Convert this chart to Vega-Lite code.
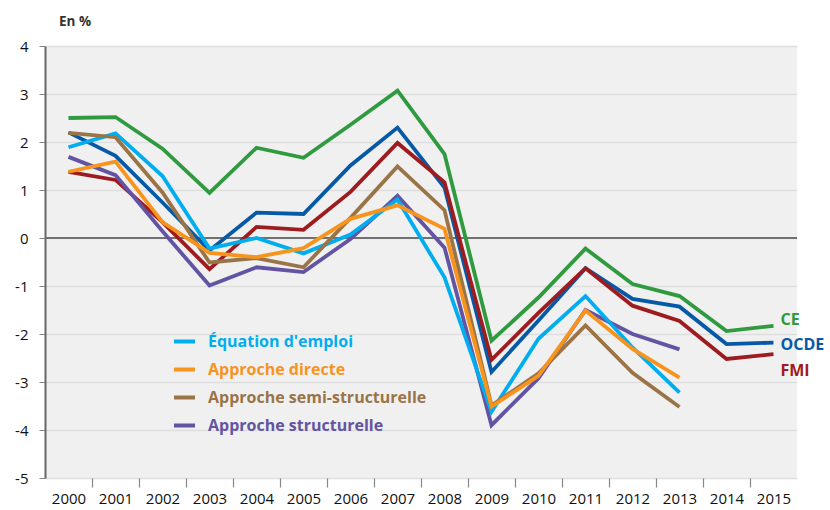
{
  "$schema": "https://vega.github.io/schema/vega-lite/v6.json",
  "width": 752,
  "height": 432,
  "autosize": {"type": "none"},
  "padding": {"left": 45, "top": 46, "right": 33, "bottom": 32},
  "background": "white",
  "title": {"text": "En %", "anchor": "start", "frame": "group", "dx": 14, "dy": 8, "offset": 5, "fontSize": 13.5, "fontWeight": "bold", "color": "#333333", "font": "Open Sans", "baseline": "bottom"},
  "config": {
    "view": {"fill": "#f0f0f0", "stroke": null},
    "font": "Open Sans"
  },
  "datasets": {
    "series": [
      {"serie": "CE", "annee": 2000, "valeur": 2.50},
      {"serie": "CE", "annee": 2001, "valeur": 2.52},
      {"serie": "CE", "annee": 2002, "valeur": 1.86},
      {"serie": "CE", "annee": 2003, "valeur": 0.94},
      {"serie": "CE", "annee": 2004, "valeur": 1.88},
      {"serie": "CE", "annee": 2005, "valeur": 1.67},
      {"serie": "CE", "annee": 2006, "valeur": 2.36},
      {"serie": "CE", "annee": 2007, "valeur": 3.07},
      {"serie": "CE", "annee": 2008, "valeur": 1.75},
      {"serie": "CE", "annee": 2009, "valeur": -2.14},
      {"serie": "CE", "annee": 2010, "valeur": -1.24},
      {"serie": "CE", "annee": 2011, "valeur": -0.22},
      {"serie": "CE", "annee": 2012, "valeur": -0.96},
      {"serie": "CE", "annee": 2013, "valeur": -1.21},
      {"serie": "CE", "annee": 2014, "valeur": -1.94},
      {"serie": "CE", "annee": 2015, "valeur": -1.83},
      {"serie": "OCDE", "annee": 2000, "valeur": 2.20},
      {"serie": "OCDE", "annee": 2001, "valeur": 1.71},
      {"serie": "OCDE", "annee": 2002, "valeur": 0.74},
      {"serie": "OCDE", "annee": 2003, "valeur": -0.26},
      {"serie": "OCDE", "annee": 2004, "valeur": 0.53},
      {"serie": "OCDE", "annee": 2005, "valeur": 0.50},
      {"serie": "OCDE", "annee": 2006, "valeur": 1.51},
      {"serie": "OCDE", "annee": 2007, "valeur": 2.30},
      {"serie": "OCDE", "annee": 2008, "valeur": 1.05},
      {"serie": "OCDE", "annee": 2009, "valeur": -2.79},
      {"serie": "OCDE", "annee": 2010, "valeur": -1.72},
      {"serie": "OCDE", "annee": 2011, "valeur": -0.63},
      {"serie": "OCDE", "annee": 2012, "valeur": -1.27},
      {"serie": "OCDE", "annee": 2013, "valeur": -1.43},
      {"serie": "OCDE", "annee": 2014, "valeur": -2.21},
      {"serie": "OCDE", "annee": 2015, "valeur": -2.18},
      {"serie": "FMI", "annee": 2000, "valeur": 1.38},
      {"serie": "FMI", "annee": 2001, "valeur": 1.21},
      {"serie": "FMI", "annee": 2002, "valeur": 0.33},
      {"serie": "FMI", "annee": 2003, "valeur": -0.65},
      {"serie": "FMI", "annee": 2004, "valeur": 0.23},
      {"serie": "FMI", "annee": 2005, "valeur": 0.17},
      {"serie": "FMI", "annee": 2006, "valeur": 0.96},
      {"serie": "FMI", "annee": 2007, "valeur": 1.98},
      {"serie": "FMI", "annee": 2008, "valeur": 1.16},
      {"serie": "FMI", "annee": 2009, "valeur": -2.54},
      {"serie": "FMI", "annee": 2010, "valeur": -1.56},
      {"serie": "FMI", "annee": 2011, "valeur": -0.63},
      {"serie": "FMI", "annee": 2012, "valeur": -1.41},
      {"serie": "FMI", "annee": 2013, "valeur": -1.73},
      {"serie": "FMI", "annee": 2014, "valeur": -2.52},
      {"serie": "FMI", "annee": 2015, "valeur": -2.42},
      {"serie": "Approche structurelle", "annee": 2000, "valeur": 1.69},
      {"serie": "Approche structurelle", "annee": 2001, "valeur": 1.31},
      {"serie": "Approche structurelle", "annee": 2002, "valeur": 0.14},
      {"serie": "Approche structurelle", "annee": 2003, "valeur": -0.99},
      {"serie": "Approche structurelle", "annee": 2004, "valeur": -0.61},
      {"serie": "Approche structurelle", "annee": 2005, "valeur": -0.71},
      {"serie": "Approche structurelle", "annee": 2006, "valeur": -0.02},
      {"serie": "Approche structurelle", "annee": 2007, "valeur": 0.88},
      {"serie": "Approche structurelle", "annee": 2008, "valeur": -0.20},
      {"serie": "Approche structurelle", "annee": 2009, "valeur": -3.90},
      {"serie": "Approche structurelle", "annee": 2010, "valeur": -2.92},
      {"serie": "Approche structurelle", "annee": 2011, "valeur": -1.50},
      {"serie": "Approche structurelle", "annee": 2012, "valeur": -2.00},
      {"serie": "Approche structurelle", "annee": 2013, "valeur": -2.32},
      {"serie": "Équation d'emploi", "annee": 2000, "valeur": 1.89},
      {"serie": "Équation d'emploi", "annee": 2001, "valeur": 2.18},
      {"serie": "Équation d'emploi", "annee": 2002, "valeur": 1.29},
      {"serie": "Équation d'emploi", "annee": 2003, "valeur": -0.22},
      {"serie": "Équation d'emploi", "annee": 2004, "valeur": 0.00},
      {"serie": "Équation d'emploi", "annee": 2005, "valeur": -0.32},
      {"serie": "Équation d'emploi", "annee": 2006, "valeur": 0.07},
      {"serie": "Équation d'emploi", "annee": 2007, "valeur": 0.80},
      {"serie": "Équation d'emploi", "annee": 2008, "valeur": -0.82},
      {"serie": "Équation d'emploi", "annee": 2009, "valeur": -3.62},
      {"serie": "Équation d'emploi", "annee": 2010, "valeur": -2.10},
      {"serie": "Équation d'emploi", "annee": 2011, "valeur": -1.21},
      {"serie": "Équation d'emploi", "annee": 2012, "valeur": -2.28},
      {"serie": "Équation d'emploi", "annee": 2013, "valeur": -3.22},
      {"serie": "Approche semi-structurelle", "annee": 2000, "valeur": 2.19},
      {"serie": "Approche semi-structurelle", "annee": 2001, "valeur": 2.10},
      {"serie": "Approche semi-structurelle", "annee": 2002, "valeur": 0.95},
      {"serie": "Approche semi-structurelle", "annee": 2003, "valeur": -0.51},
      {"serie": "Approche semi-structurelle", "annee": 2004, "valeur": -0.42},
      {"serie": "Approche semi-structurelle", "annee": 2005, "valeur": -0.61},
      {"serie": "Approche semi-structurelle", "annee": 2006, "valeur": 0.42},
      {"serie": "Approche semi-structurelle", "annee": 2007, "valeur": 1.49},
      {"serie": "Approche semi-structurelle", "annee": 2008, "valeur": 0.58},
      {"serie": "Approche semi-structurelle", "annee": 2009, "valeur": -3.49},
      {"serie": "Approche semi-structurelle", "annee": 2010, "valeur": -2.82},
      {"serie": "Approche semi-structurelle", "annee": 2011, "valeur": -1.82},
      {"serie": "Approche semi-structurelle", "annee": 2012, "valeur": -2.81},
      {"serie": "Approche semi-structurelle", "annee": 2013, "valeur": -3.52},
      {"serie": "Approche directe", "annee": 2000, "valeur": 1.38},
      {"serie": "Approche directe", "annee": 2001, "valeur": 1.59},
      {"serie": "Approche directe", "annee": 2002, "valeur": 0.33},
      {"serie": "Approche directe", "annee": 2003, "valeur": -0.31},
      {"serie": "Approche directe", "annee": 2004, "valeur": -0.40},
      {"serie": "Approche directe", "annee": 2005, "valeur": -0.21},
      {"serie": "Approche directe", "annee": 2006, "valeur": 0.40},
      {"serie": "Approche directe", "annee": 2007, "valeur": 0.68},
      {"serie": "Approche directe", "annee": 2008, "valeur": 0.19},
      {"serie": "Approche directe", "annee": 2009, "valeur": -3.51},
      {"serie": "Approche directe", "annee": 2010, "valeur": -2.87},
      {"serie": "Approche directe", "annee": 2011, "valeur": -1.51},
      {"serie": "Approche directe", "annee": 2012, "valeur": -2.31},
      {"serie": "Approche directe", "annee": 2013, "valeur": -2.91}
    ]
  },
  "data": {"name": "series"},
  "encoding": {
    "x": {
      "field": "annee", "type": "quantitative",
      "scale": {"domain": [1999.5, 2015.5], "nice": false, "zero": false},
      "axis": {
        "values": [2000.5, 2001.5, 2002.5, 2003.5, 2004.5, 2005.5, 2006.5, 2007.5, 2008.5, 2009.5, 2010.5, 2011.5, 2012.5, 2013.5, 2014.5, 2015.5],
        "labelExpr": "format(datum.value - 0.5, 'd')",
        "labelOffset": -23.5,
        "labelFlush": false,
        "labelOverlap": false,
        "title": null, "grid": false, "domain": false,
        "tickSize": 9, "tickColor": "#888888", "tickWidth": 1.2,
        "tickOpacity": {"condition": {"test": "datum.value > 2015", "value": 0}, "value": 1},
        "labelFont": "Open Sans", "labelFontSize": 15, "labelColor": "#111111", "labelPadding": 4
      }
    },
    "y": {
      "field": "valeur", "type": "quantitative",
      "scale": {"domain": [-5, 4], "nice": false, "zero": false},
      "axis": {
        "values": [-5, -4, -3, -2, -1, 0, 1, 2, 3, 4],
        "labelExpr": "datum.value < 0 ? '-' + abs(datum.value) : '' + datum.value",
        "title": null,
        "grid": true, "gridColor": "#dedede", "gridWidth": 1.5,
        "domain": true, "domainColor": "#666666", "domainWidth": 2,
        "ticks": true, "tickSize": 6, "tickColor": "#888888", "tickWidth": 1,
        "labelFont": "Open Sans", "labelFontSize": 15, "labelColor": "#111111", "labelPadding": 11
      }
    },
    "color": {
      "field": "serie", "type": "nominal",
      "scale": {
        "domain": ["Équation d'emploi", "Approche directe", "Approche semi-structurelle", "Approche structurelle", "CE", "OCDE", "FMI"],
        "range": ["#00aeef", "#f7941e", "#9a7447", "#6353a3", "#2f9a3f", "#0659a6", "#9d1c20"]
      },
      "legend": {
        "values": ["Équation d'emploi", "Approche directe", "Approche semi-structurelle", "Approche structurelle"],
        "title": null,
        "orient": "none",
        "legendX": 127,
        "legendY": 283,
        "symbolType": "stroke",
        "symbolSize": 441,
        "symbolStrokeWidth": 4,
        "rowPadding": 7,
        "labelOffset": 11,
        "labelLimit": 0,
        "labelFont": "Open Sans",
        "labelFontSize": 16,
        "labelFontWeight": "bold",
        "padding": 0,
        "encode": {"labels": {"update": {"fill": {"scale": "color", "field": "value"}}}}
      }
    }
  },
  "layer": [
    {
      "data": {"values": [{"valeur": 0}]},
      "mark": {"type": "rule", "color": "#707070", "strokeWidth": 2},
      "encoding": {
        "x": null,
        "color": null
      }
    },
    {
      "mark": {"type": "line", "strokeWidth": 3.8, "strokeJoin": "miter", "strokeCap": "butt"}
    },
    {
      "transform": [{"filter": "datum.serie == 'CE' && datum.annee == 2015"}],
      "mark": {"type": "text", "align": "left", "baseline": "middle", "dx": 7, "dy": -6, "fontSize": 16, "fontWeight": "bold", "font": "Open Sans"},
      "encoding": {"text": {"field": "serie"}}
    },
    {
      "transform": [{"filter": "datum.serie == 'OCDE' && datum.annee == 2015"}],
      "mark": {"type": "text", "align": "left", "baseline": "middle", "dx": 7, "dy": 2, "fontSize": 16, "fontWeight": "bold", "font": "Open Sans"},
      "encoding": {"text": {"field": "serie"}}
    },
    {
      "transform": [{"filter": "datum.serie == 'FMI' && datum.annee == 2015"}],
      "mark": {"type": "text", "align": "left", "baseline": "middle", "dx": 7, "dy": 16.5, "fontSize": 16, "fontWeight": "bold", "font": "Open Sans"},
      "encoding": {"text": {"field": "serie"}}
    }
  ]
}
